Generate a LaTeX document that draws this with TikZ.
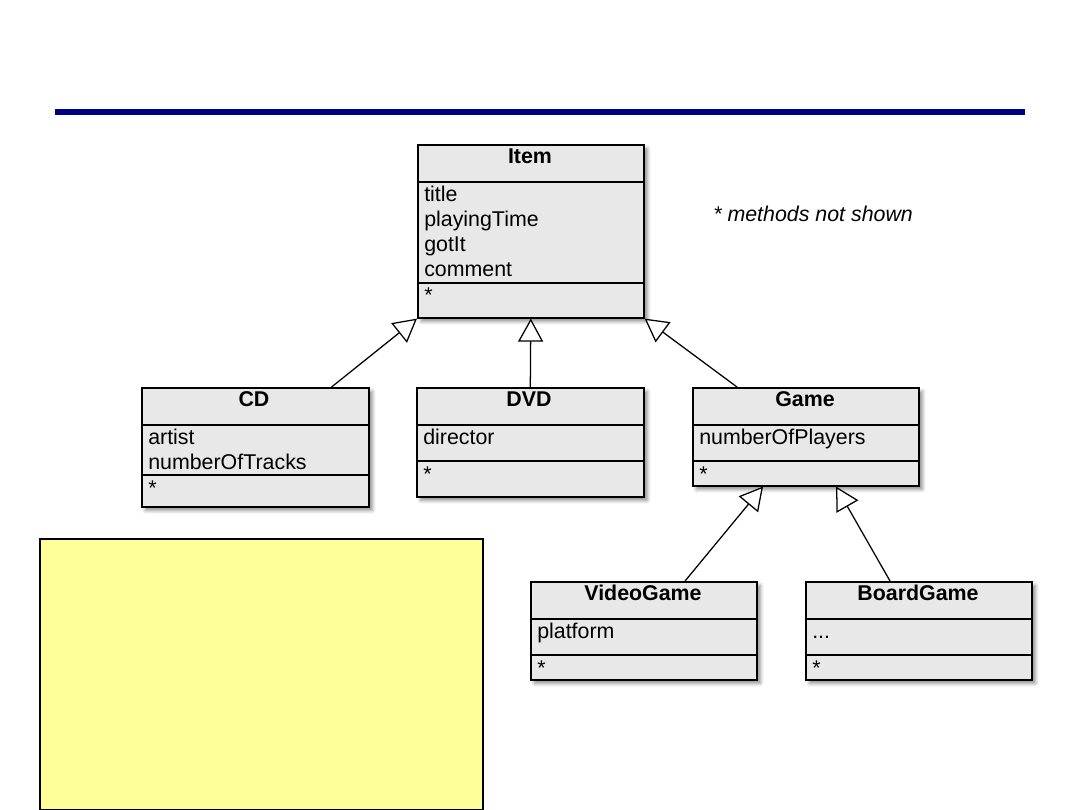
\documentclass[tikz,border=0pt]{standalone}
\usepackage{fontspec}
\setmainfont{Liberation Sans}
\usepackage{xcolor}
\usetikzlibrary{arrows.meta, positioning, shadows.blur}

\definecolor{boxfill}{RGB}{232,232,232}
\definecolor{notefill}{RGB}{255,255,153}
\definecolor{rulenavy}{RGB}{0,0,135}

\begin{document}
\begin{tikzpicture}[
    x=0.025cm, y=-0.025cm,
    font=\fontsize{15.2}{17.8}\selectfont,
    cls/.style={draw, line width=1.1pt, fill=boxfill, anchor=north west, minimum width=5.65cm,
        blur shadow={shadow xshift=2.5pt, shadow yshift=-2.5pt, shadow blur radius=2.5pt, shadow opacity=45}},
    sep/.style={line width=1.1pt},
    title/.style={anchor=base, inner sep=0pt, font=\fontsize{15.2}{17.8}\selectfont\bfseries},
    attr/.style={anchor=base west, inner sep=0pt},
    gen/.style={line width=0.9pt, -{Triangle[length=0.575cm, width=0.625cm, fill=white]}}
]
\useasboundingbox (0,0) rectangle (1080,810);

% title rule
\draw[rulenavy, line width=3.9pt] (55,112) -- (1025,112);

% classes
\node[cls, minimum height=4.325cm] (item) at (417,144) {};
\node[cls, minimum width=5.675cm, minimum height=2.975cm] (cd) at (141,387) {};
\node[cls, minimum width=5.675cm, minimum height=2.725cm] (dvd) at (416,387) {};
\node[cls, minimum height=2.45cm] (game) at (692,387) {};
\node[cls, minimum height=2.45cm] (vg) at (530,581) {};
\node[cls, minimum height=2.45cm] (bg) at (805,581) {};

\draw[sep] (item.west |- 0,182) -- (item.east |- 0,182);
\draw[sep] (item.west |- 0,283) -- (item.east |- 0,283);
\draw[sep] (cd.west |- 0,425) -- (cd.east |- 0,425);
\draw[sep] (cd.west |- 0,475) -- (cd.east |- 0,475);
\draw[sep] (dvd.west |- 0,425) -- (dvd.east |- 0,425);
\draw[sep] (dvd.west |- 0,461) -- (dvd.east |- 0,461);
\draw[sep] (game.west |- 0,425) -- (game.east |- 0,425);
\draw[sep] (game.west |- 0,461) -- (game.east |- 0,461);
\draw[sep] (vg.west |- 0,619) -- (vg.east |- 0,619);
\draw[sep] (vg.west |- 0,655) -- (vg.east |- 0,655);
\draw[sep] (bg.west |- 0,619) -- (bg.east |- 0,619);
\draw[sep] (bg.west |- 0,655) -- (bg.east |- 0,655);

% names
\node[title] (item-t) at (530,163) {Item};
\node[title] (cd-t) at (254,406) {CD};
\node[title] (dvd-t) at (529,406) {DVD};
\node[title] (game-t) at (805,406) {Game};
\node[title] (vg-t) at (643,600) {VideoGame};
\node[title] (bg-t) at (918,600) {BoardGame};

% attributes and methods
\foreach \a [count=\i from 0] in {title,playingTime,gotIt,comment}
    \node[attr] (item-a\i) at (424,{201+25*\i}) {\a};
\node[attr] (item-m) at (424,302) {*};
\node[attr] (cd-a0) at (148,444) {artist};
\node[attr] (cd-a1) at (148,469) {numberOfTracks};
\node[attr] (cd-m) at (148,495) {*};
\node[attr] (dvd-a0) at (423,444) {director};
\node[attr] (dvd-m) at (423,481) {*};
\node[attr] (game-a0) at (699,444) {numberOfPlayers};
\node[attr] (game-m) at (699,481) {*};
\node[attr] (vg-a0) at (537,638) {platform};
\node[attr] (vg-m) at (537,675) {*};
\node[attr] (bg-a0) at (812,638) {...};
\node[attr] (bg-m) at (812,675) {*};

\node[attr] (remark) at (713,221) {\itshape * methods not shown};

% yellow note
\node[draw, line width=1.3pt, fill=notefill, anchor=north west,
    minimum width=11.075cm, minimum height=6.775cm] (note) at (39,538) {};

% generalizations
\draw[gen] ([xshift=-0.95cm]cd.north east) -- (item.south west);
\draw[gen] (dvd.north) -- (item.south);
\draw[gen] ([xshift=1.125cm]game.north west) -- (item.south east);
\draw[gen] ([xshift=3.875cm]vg.north west) -- ([xshift=1.775cm]game.south west);
\draw[gen] ([xshift=2.125cm]bg.north west) -- ([xshift=3.6cm]game.south west);

\end{tikzpicture}
\end{document}
